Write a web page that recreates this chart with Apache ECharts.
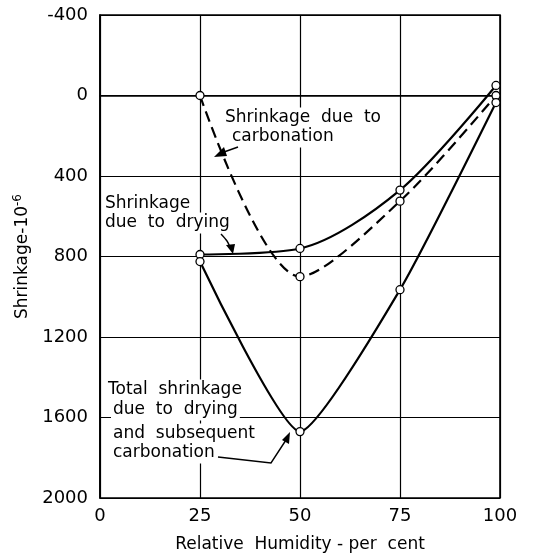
<!DOCTYPE html>
<html>
<head>
<meta charset="utf-8">
<script src="https://cdn.jsdelivr.net/npm/echarts@6/dist/echarts.min.js"></script>
<style>
  html, body { margin: 0; padding: 0; background: #fff; }
  #main { width: 534px; height: 559px; }
</style>
</head>
<body>
<div id="main"></div>
<script>
// relative humidity (per cent)
const humidity = [25, 50, 75, 99]
// shrinkage x 10^-6
const dryingShrinkage = [790, 760, 470, -50]
const carbonationShrinkage = [0, 900, 525, 0]
const totalShrinkage = [825, 1670, 965, 35]
const yTicks = [-400, 0, 400, 800, 1200, 1600, 2000]

const pairs = (ys) => humidity.map((x, i) => [x, ys[i]])
const font = 'DejaVu Sans'

const lineSeries = (name, ys, dashed, smooth) => {
  return {
    name: name,
    type: 'line',
    smooth: smooth,
    data: pairs(ys),
    symbol: 'circle',
    symbolSize: 8,
    itemStyle: { color: '#fff', borderColor: '#000', borderWidth: 1.3 },
    lineStyle: { color: '#000', width: 2.2, type: dashed ? [11, 6] : 'solid' },
    z: 3
  }
}

// one line of annotation text, (x, y) = left edge / vertical middle
const note = (x, y, text) => {
  return {
    type: 'text',
    x: x,
    y: y,
    z: 5,
    style: {
      text: text,
      font: '17px "' + font + '"',
      verticalAlign: 'middle',
      fill: '#000',
      backgroundColor: '#fff',
      padding: [2, 2]
    }
  }
}

const arrow = (points, head, smooth) => {
  return [
    { type: 'polyline', z: 6, shape: { points: points, smooth: smooth }, style: { stroke: '#000', lineWidth: 1.4, fill: null } },
    { type: 'polygon', z: 6, shape: { points: head }, style: { fill: '#000' } }
  ]
}

let option = {
  backgroundColor: '#fff',
  animation: false,
  grid: {
    left: 100,
    right: 34,
    top: 15,
    bottom: 61,
    show: true,
    borderColor: '#000',
    borderWidth: 1.6
  },
  xAxis: {
    type: 'value',
    min: 0,
    max: 100,
    interval: 25,
    name: 'Relative  Humidity - per  cent',
    nameLocation: 'middle',
    nameGap: 38,
    nameTextStyle: { fontFamily: font, fontSize: 17, color: '#000' },
    axisLine: { show: true, lineStyle: { color: '#000', width: 1.6 } },
    axisTick: { show: false },
    axisLabel: { fontFamily: font, fontSize: 18, color: '#000', margin: 9 },
    splitLine: { show: true, lineStyle: { color: '#000', width: 1.2 } }
  },
  yAxis: {
    type: 'value',
    inverse: true,
    min: yTicks[0],
    max: yTicks[yTicks.length - 1],
    interval: 400,
    name: 'Shrinkage-10{sup|-6}',
    nameLocation: 'middle',
    nameRotate: 90,
    nameGap: 56,
    nameTextStyle: {
      fontFamily: font,
      fontSize: 17,
      color: '#000',
      rich: {
        sup: { fontFamily: font, fontSize: 12, verticalAlign: 'top', padding: [0, 0, 9, 0] }
      }
    },
    axisLine: { show: true, lineStyle: { color: '#000', width: 1.6 } },
    axisTick: { show: false },
    axisLabel: {
      fontFamily: font,
      fontSize: 18,
      color: '#000',
      margin: 12,
      formatter: (v) => String(v)
    },
    splitLine: { show: true, lineStyle: { color: '#000', width: 1.2 } }
  },
  series: [
    lineSeries('Shrinkage due to drying', dryingShrinkage, false, 0.3),
    lineSeries('Shrinkage due to carbonation', carbonationShrinkage, true, 0.3),
    lineSeries('Total shrinkage', totalShrinkage, false, 0.18)
  ],
  graphic: [
    note(223, 118, 'Shrinkage  due  to'),
    note(230, 137, 'carbonation'),
    note(103, 204, 'Shrinkage'),
    note(103, 223, 'due  to  drying'),
    note(106, 390, 'Total  shrinkage'),
    note(111, 410, 'due  to  drying'),
    note(111, 434, 'and  subsequent'),
    note(111, 453, 'carbonation')
  ]
    .concat(arrow([[238, 147], [224, 152]], [[214, 157], [224, 147], [227, 156]], 0))
    .concat(arrow([[221, 234], [227, 241], [230, 247]], [[233, 254], [226, 245], [235, 244]], 0.3))
    .concat(arrow([[218, 457], [271, 463], [286, 440]], [[290, 432], [282, 440], [289, 444]], 0))
}

const myChart = echarts.init(document.getElementById('main'))
myChart.setOption(option)
</script>
</body>
</html>
